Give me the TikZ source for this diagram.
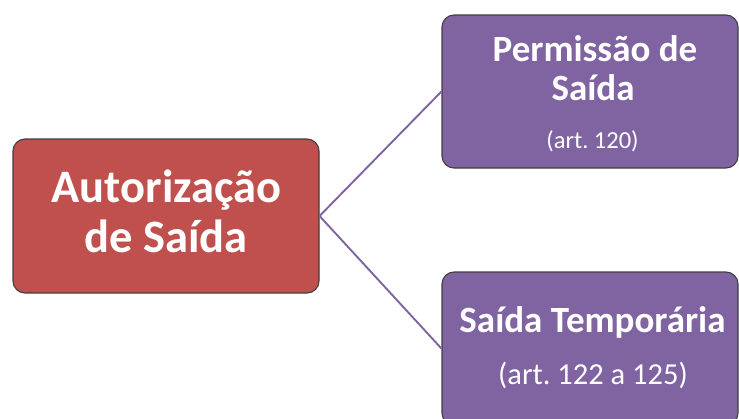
\documentclass[tikz,border=0pt]{standalone}
\usepackage{fontspec}
\setmainfont{Carlito}
\definecolor{redbox}{HTML}{C0504D}
\definecolor{purplebox}{HTML}{8064A2}
\definecolor{edgegray}{HTML}{3F3F3F}
\tikzset{
  x=1pt, y=1pt,
  boxbase/.style={draw=edgegray, line width=1.1pt, rounded corners=12pt, inner sep=0pt},
  redbox/.style={boxbase, fill=redbox, minimum width=306pt, minimum height=154pt},
  purplebox/.style={boxbase, fill=purplebox, minimum width=296pt, minimum height=153pt},
  bigtxt/.style={text=white, anchor=base, inner sep=0pt, font=\bfseries\fontsize{46.5}{50}\selectfont},
  midtxt/.style={text=white, anchor=base, inner sep=0pt, font=\bfseries\fontsize{37}{39}\selectfont},
  smalltxt/.style={text=white, anchor=base, inner sep=0pt, font=\frenchspacing\fontsize{24.5}{27}\selectfont},
  subtxt/.style={text=white, anchor=base, inner sep=0pt, font=\frenchspacing\fontsize{30.5}{33}\selectfont},
  link/.style={draw=purplebox, line width=1.9pt}
}
\begin{document}
\begin{tikzpicture}
\useasboundingbox (0,0) rectangle (739,-418);
\clip (0,0) rectangle (739,-418);
\node[redbox] (auth) at (166,-216) {};
\node[purplebox] (perm) at (590,-91.5) {};
\node[purplebox] (temp) at (590,-348.5) {};
\draw[link] (auth.east) -- (perm.west);
\draw[link] (auth.east) -- (temp.west);
\node[bigtxt] (authA) at (166.5,-202) {Autorização};
\node[bigtxt] (authB) at (166,-252) {de Saída};
\node[midtxt] (permA) at (595,-61) {Permissão de};
\node[midtxt] (permB) at (593,-100) {Saída};
\node[smalltxt] (permC) at (592.5,-148) {(art. 120)};
\node[midtxt] (tempA) at (592.5,-332) {Saída Temporária};
\node[subtxt] (tempB) at (593,-384) {(art. 122 a 125)};
\end{tikzpicture}
\end{document}
